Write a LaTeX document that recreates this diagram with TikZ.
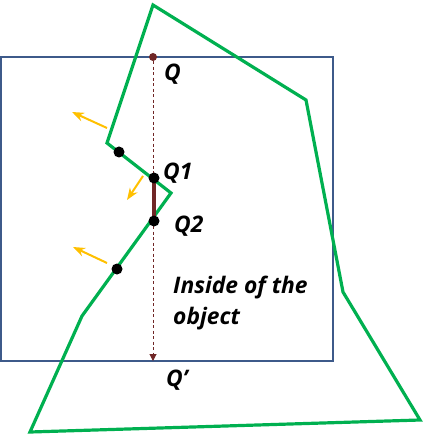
\documentclass[tikz,border=0pt]{standalone}
\usepackage{fontspec}
\setmainfont{Open Sans}
\usetikzlibrary{positioning, arrows.meta}

\definecolor{boxblue}{RGB}{61,90,138}
\definecolor{objgreen}{RGB}{0,176,80}
\definecolor{raybrown}{RGB}{112,38,38}
\definecolor{normorange}{RGB}{255,192,0}

\begin{document}
\begin{tikzpicture}[
    x=1pt, y=-1pt,
    dot/.style={
        circle,
        fill=black,
        inner sep=0pt,
        minimum size=11pt
    },
    lbl/.style={
        font=\fontsize{22.8}{31}\selectfont\bfseries\itshape,
        inner sep=0pt,
        anchor=base west
    },
    normal/.style={-Stealth, normorange, line width=2pt},
    ray/.style={raybrown, dashed, dash pattern=on 3pt off 2.5pt, line width=1pt}
]
\useasboundingbox (0,0) rectangle (423,435);

% view window
\draw[boxblue, line width=1.8pt] (1,57) rectangle (333,361);

% object outline
\coordinate (p1) at (153,5);
\coordinate (p2) at (306,100);
\coordinate (p3) at (343,292);
\coordinate (p4) at (420,420);
\coordinate (p5) at (30,432);
\coordinate (p6) at (82,316);
\coordinate (p7) at (171,193);
\coordinate (p8) at (107,143);
\draw[objgreen, line width=3.2pt, line join=miter]
    (p1) -- (p2) -- (p3) -- (p4) -- (p5) -- (p6) -- (p7) -- (p8) -- cycle;

% normals
\coordinate (n1a) at (107,128);
\coordinate (n1b) at (72,112);
\coordinate (n2a) at (143,176);
\coordinate (n2b) at (127,200);
\coordinate (n3a) at (107,263);
\coordinate (n3b) at (73,247);
\draw[normal] (n1a) -- (n1b);
\draw[normal] (n2a) -- (n2b);
\draw[normal] (n3a) -- (n3b);

% ray
\node[dot, fill=raybrown, minimum size=8pt] (q) at (153,57) {};
\coordinate (qend) at (153,361);
\draw[ray, -{Triangle[length=7pt, width=7pt]}] (q) -- (qend);
\draw[raybrown, line width=3.5pt] (154,178) -- (154,221);

% hits
\node[dot] (h1) at (119,152) {};
\node[dot] (q1) at (154,178) {};
\node[dot] (q2) at (154,221) {};
\node[dot] (h2) at (117,269) {};

% labels
\node[lbl] (lq) at (164,81) {Q};
\node[lbl] (lq1) at (163,180) {Q1};
\node[lbl] (lq2) at (174,232) {Q2};
\node[lbl] (lqp) at (166,386) {Q’};
\node[lbl, align=left, anchor=north west] (inside) at (173,276) {Inside of the\\object};

\end{tikzpicture}
\end{document}
